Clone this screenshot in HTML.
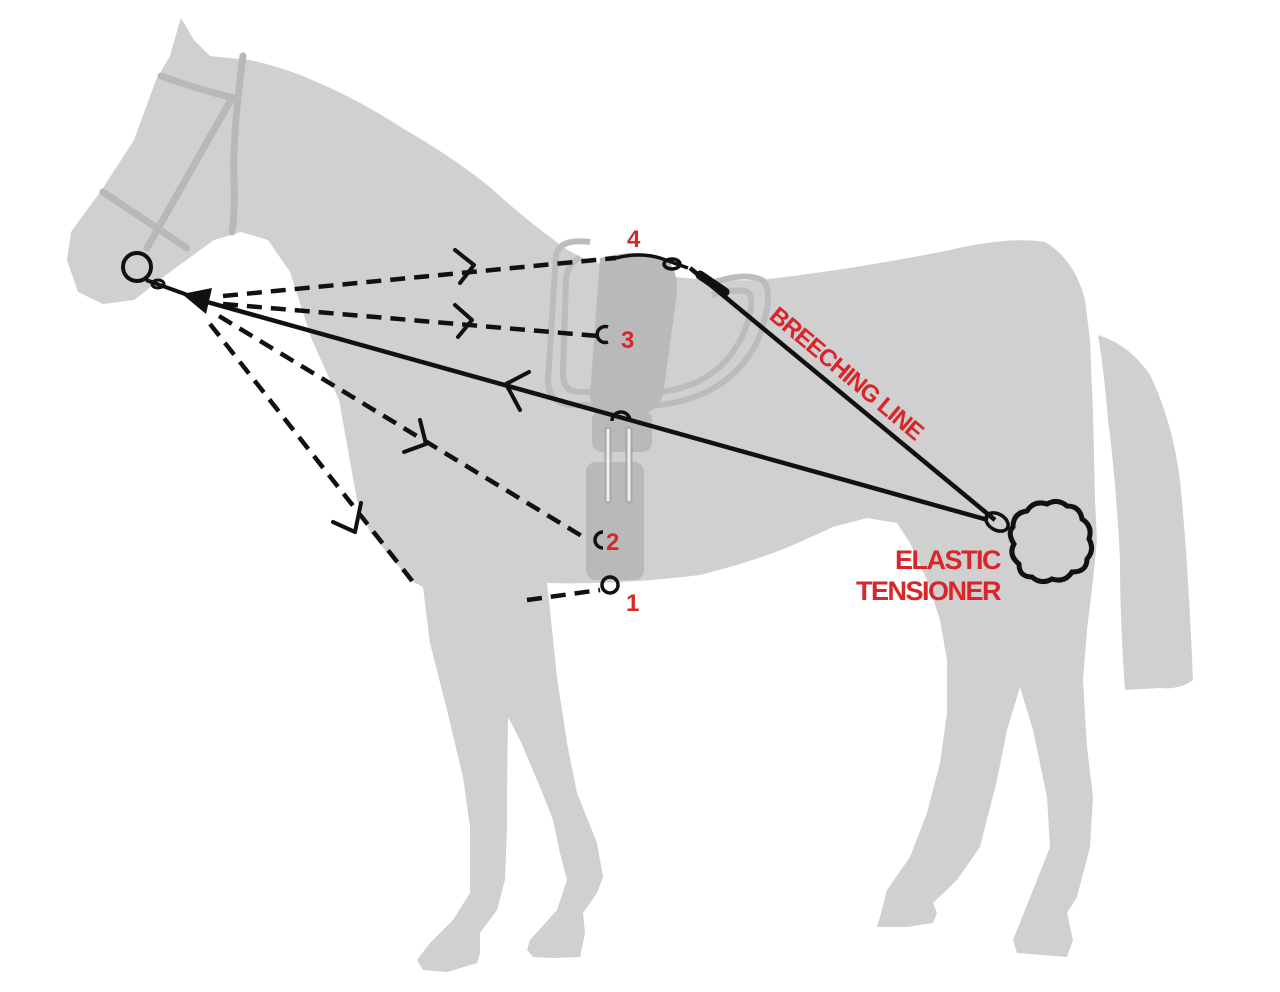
<!DOCTYPE html>
<html><head><meta charset="utf-8"><style>
html,body{margin:0;padding:0;background:#fff;}
svg{display:block;}
.lbl{font-family:"Liberation Sans",sans-serif;font-weight:bold;fill:#d8262a;}
</style></head><body>
<svg width="1280" height="992" viewBox="0 0 1280 992" xmlns="http://www.w3.org/2000/svg">
<rect width="1280" height="992" fill="#fff"/>
<path fill="#d0d0d0" d="M181,18 L194,40 L210,56 Q230,58 250,60 Q285,68 312,80 Q360,100 402,128 Q450,155 491,188 Q520,215 554,240 Q580,262 620,268 Q680,282 760,280 Q850,270 950,250 Q1010,236 1045,242 Q1075,260 1085,300 L1090,340 L1093,413 L1095,500 L1097,540 L1093,580 L1087,630 L1083,680 L1087,747 L1093,797 L1090,847 L1077,897 L1067,913 L1073,940 L1067,957 L1017,953 L1013,940 L1033,890 L1050,847 L1047,797 L1033,730 L1020,687 L1007,730 L997,780 L980,847 L957,880 L933,903 L937,913 L933,923 L907,927 L877,927 L880,917 L887,890 L910,857 L927,813 L940,763 L947,713 L947,660 L940,620 L927,580 L910,543 L897,523 L867,518 L833,527 L800,542 Q760,560 700,575 Q620,585 547,583 L550,610 L557,677 L567,743 L577,793 L597,843 L603,877 L597,893 L583,913 L585,933 L580,957 L553,958 L533,957 L527,950 L530,940 L557,910 L567,880 L560,853 L553,820 L540,787 L520,740 L508,717 L507,793 L507,827 L505,880 L497,910 L480,933 L480,953 L477,963 L447,972 L423,970 L417,960 L430,943 L453,920 L470,893 L470,827 L463,777 L447,710 L430,643 L423,587 L410,580 L370,532 L357,500 L339,400 L312,340 L290,272 L268,240 L241,232 L214,240 L192,256 L170,272 L134,300 L103,304 L78,292 L67,260 L71,232 L103,188 L134,140 L156,80 L170,56 L179,24 Z"/>
<path fill="#d0d0d0" d="M1098,335 Q1130,345 1150,375 Q1172,420 1180,480 Q1188,560 1193,680 Q1180,690 1160,688 L1125,690 Q1120,620 1120,560 Q1116,480 1108,420 Q1104,370 1098,335 Z"/>
<g stroke="#b8b8b8" stroke-width="7" fill="none" stroke-linecap="round">
<path d="M243,56 Q232,140 234,180 Q235,215 232,232"/>
<path d="M161,76 Q200,90 234,98"/>
<path d="M103,192 L187,248"/>
<path d="M232,98 L147,248"/>
</g>
<g stroke="#bcbcbc" stroke-width="6" fill="none">
<path d="M590,242 Q560,238 556,255 L548,380 Q548,405 575,405 L660,405 Q735,395 760,335 Q775,290 762,280 Q745,272 715,282"/>
<path d="M580,258 Q568,262 566,280 L563,375 Q563,392 580,392 L660,392 Q722,385 745,330 Q756,300 748,292 Q735,288 712,295"/>
</g>
<path fill="#b9b9b9" d="M600,258 Q640,248 665,258 Q680,270 676,300 L663,395 Q658,412 640,414 L605,414 Q590,410 590,395 Z"/>
<rect x="592" y="410" width="60" height="42" rx="10" fill="#b9b9b9"/>
<rect x="586" y="462" width="58" height="118" rx="10" fill="#b9b9b9"/>
<g stroke="#a8a8a8" stroke-width="7" stroke-linecap="round"><line x1="608" y1="430" x2="608" y2="500"/><line x1="629" y1="430" x2="629" y2="500"/></g>
<g stroke="#efefef" stroke-width="3" stroke-linecap="round"><line x1="608" y1="430" x2="608" y2="500"/><line x1="629" y1="430" x2="629" y2="500"/></g>
<g stroke="#111" stroke-width="4.5" fill="none" stroke-dasharray="15 9">
<path d="M223,296 L616,258"/>
<path d="M223,304 L598,336"/>
<path d="M219,316 L585,538"/>
<path d="M210,324 L413,582"/>
<path d="M527,600 L600,590"/>
</g>
<g stroke="#111" stroke-width="4" fill="none" stroke-linecap="round" stroke-linejoin="round">
<polyline points="455,250 474,265 460,283"/>
<polyline points="455,305 472,320 458,337"/>
<polyline points="529,372 506,384 520,410"/>
<polyline points="404,452 426,444 420,420"/>
<polyline points="333,522 355,532 361,503"/>
</g>
<g stroke="#111" stroke-width="4.5" fill="none">
<path d="M200,300 L988,520"/>
<path d="M690,268 L995,520"/>
</g>
<circle cx="137" cy="267" r="14" stroke="#111" stroke-width="4" fill="none"/>
<path d="M146,280 L196,298" stroke="#111" stroke-width="4"/>
<ellipse cx="158" cy="284" rx="6" ry="4" stroke="#111" stroke-width="3" fill="none"/>
<polygon points="182,294 212,288 206,314" fill="#111"/>
<g stroke="#111" stroke-width="3.5" fill="none">
<path d="M608,327 A8,8 0 1 0 608,342"/>
<path d="M603,532 A8,8 0 1 0 603,548"/>
<circle cx="610" cy="585" r="8"/>
<path d="M612,421 A9,9 0 1 1 630,421"/>
<path d="M616,258 Q640,252 660,258 L688,268"/>
<ellipse cx="672" cy="264" rx="8" ry="5"/>
<ellipse cx="997" cy="522" rx="12" ry="8" transform="rotate(30 997 522)"/>
</g>
<path d="M700,275 L725,292" stroke="#111" stroke-width="9" stroke-linecap="round"/>
<path fill="#d0d0d0" stroke="#111" stroke-width="5" d="M1013,527 q0,-14 14,-16 q7,-11 20,-7 q11,-6 20,2 q13,0 15,13 q11,7 7,20 q6,11 -2,20 q0,13 -15,13 q-7,11 -20,7 q-11,6 -20,-2 q-13,0 -13,-13 q-11,-9 -5,-20 q-7,-11 -1,-17 z"/>
<text class="lbl" x="627" y="247" font-size="24">4</text>
<text class="lbl" x="621" y="348" font-size="24">3</text>
<text class="lbl" x="606" y="550" font-size="24">2</text>
<text class="lbl" x="626" y="611" font-size="24">1</text>
<text class="lbl" font-size="24" letter-spacing="-1" transform="translate(768,318) rotate(40)">BREECHING LINE</text>
<text class="lbl" x="1000" y="569" font-size="27" text-anchor="end" letter-spacing="-1.5">ELASTIC</text>
<text class="lbl" x="1000" y="600" font-size="27" text-anchor="end" letter-spacing="-1.5">TENSIONER</text>
</svg>
</body></html>
